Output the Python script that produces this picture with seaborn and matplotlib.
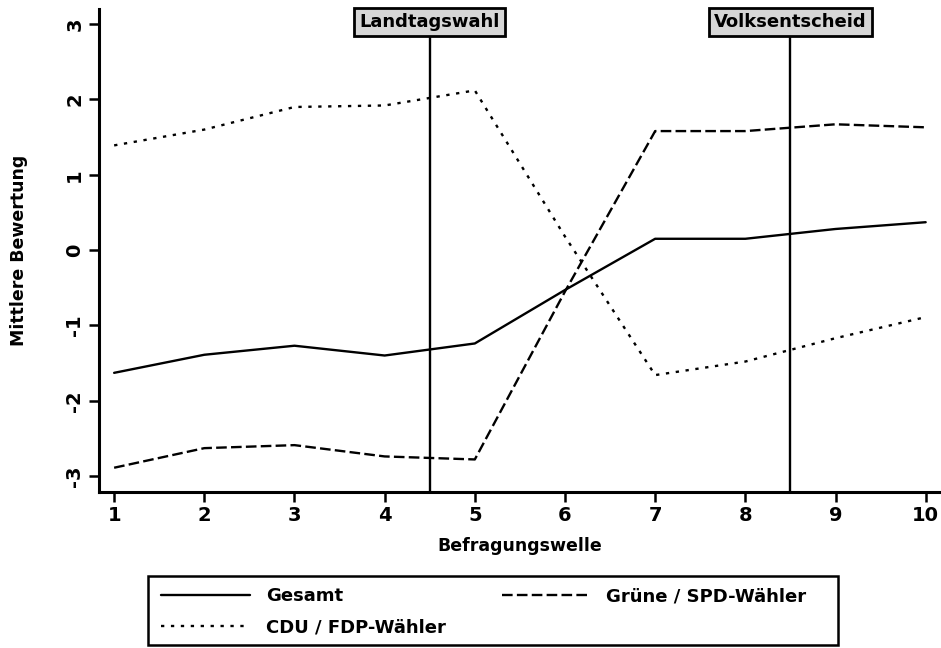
import numpy as np
import pandas as pd
import matplotlib
matplotlib.use("Agg")
import matplotlib.pyplot as plt
from matplotlib.patches import Rectangle
import seaborn as sns

wellen = [1, 2, 3, 4, 5, 6, 7, 8, 9, 10]
gesamt = [-1.63, -1.39, -1.27, -1.40, -1.24, -0.53, 0.15, 0.15, 0.28, 0.37]
gruene_spd = [-2.89, -2.63, -2.59, -2.74, -2.78, -0.55, 1.58, 1.58, 1.67, 1.63]
cdu_fdp = [1.39, 1.60, 1.90, 1.92, 2.12, 0.18, -1.66, -1.48, -1.17, -0.89]
gruppen = ["Gesamt", "CDU / FDP-Wähler", "Grüne / SPD-Wähler"]
ereignisse = [(4.5, "Landtagswahl"), (8.5, "Volksentscheid")]
yticks = [-3, -2, -1, 0, 1, 2, 3]

df = pd.DataFrame({
    "Befragungswelle": wellen * 3,
    "Wert": gesamt + cdu_fdp + gruene_spd,
    "Gruppe": ["Gesamt"] * 10 + ["CDU / FDP-Wähler"] * 10 + ["Grüne / SPD-Wähler"] * 10,
})

sns.set_style("white")
plt.rcParams["font.family"] = ["DejaVu Sans"]
plt.rcParams["font.weight"] = "bold"
for k in ["text.color", "axes.labelcolor", "xtick.color", "ytick.color"]:
    plt.rcParams[k] = "black"

fig = plt.figure(figsize=(9.41, 6.48), dpi=100)
ax = fig.add_axes([0.105, 0.241, 0.895, 0.745])

dashes = {"Gesamt": "", "CDU / FDP-Wähler": (1.4, 2.8), "Grüne / SPD-Wähler": (4.5, 1.8)}
sns.lineplot(data=df, x="Befragungswelle", y="Wert", hue="Gruppe", style="Gruppe",
             hue_order=gruppen, style_order=gruppen,
             palette=["black"] * 3, dashes=dashes, linewidth=1.7, ax=ax, legend=True)

for xv, lab in ereignisse:
    ax.axvline(xv, color="black", lw=1.7, ymax=0.944)
    ax.text(xv, 3.03, lab, ha="center", va="center", fontsize=13, fontweight="bold",
            bbox=dict(boxstyle="square,pad=0.28", fc="#d6d6d6", ec="black", lw=2),
            clip_on=False, zorder=5)

ax.set_xlim(0.83, 10.17)
ax.set_ylim(-3.21, 3.2)
ax.set_xticks(wellen)
ax.set_yticks(yticks)
ax.set_yticklabels([str(v) for v in yticks], rotation=90, va="center")
ax.tick_params(axis="both", labelsize=14, length=7, width=1.8, direction="out",
               bottom=True, left=True, color="black")
for lab in ax.get_xticklabels() + ax.get_yticklabels():
    lab.set_fontweight("bold")
ax.set_xlabel("Befragungswelle", fontsize=12.5, fontweight="bold", labelpad=8)
ax.set_ylabel("Mittlere Bewertung", fontsize=12.5, fontweight="bold", labelpad=27)
for s in ["top", "right"]:
    ax.spines[s].set_visible(False)
for s in ["left", "bottom"]:
    ax.spines[s].set_linewidth(2.2)
    ax.spines[s].set_color("black")

handles, labels = ax.get_legend_handles_labels()
ax.get_legend().remove()

fig.patches.append(Rectangle((148 / 941, 3 / 648), 690 / 941, 69 / 648,
                             transform=fig.transFigure, fill=False,
                             ec="black", lw=1.8))
leg = fig.legend(handles, labels, ncol=2, loc="center left",
                 bbox_to_anchor=(152 / 941, 1 - 612 / 648),
                 frameon=False, fontsize=13, handlelength=4.9, borderpad=0,
                 labelspacing=0.75, handletextpad=0.9, columnspacing=3.1)
for t in leg.get_texts():
    t.set_fontweight("bold")

fig.savefig("out.png", dpi=100)
